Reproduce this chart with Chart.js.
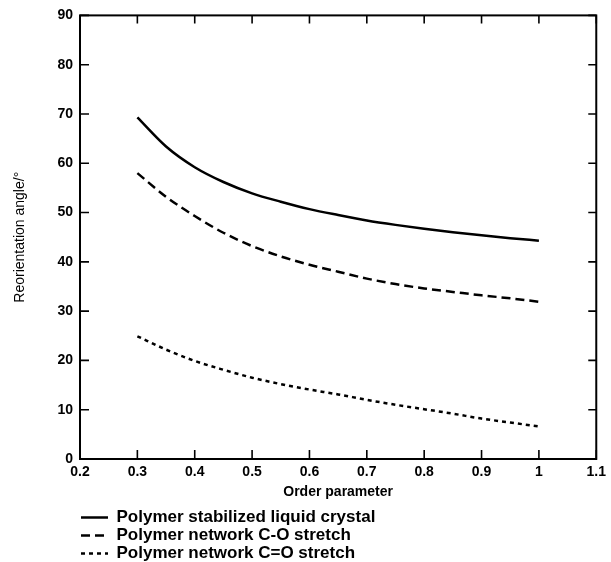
<!DOCTYPE html>
<html>
<head>
<meta charset="utf-8">
<script src="https://cdn.jsdelivr.net/npm/chart.js@4"></script>
<style>
  html, body { margin: 0; padding: 0; background: #fff; overflow: hidden; }
  #wrap { width: 611px; height: 562px; overflow: hidden; }
</style>
</head>
<body>
<div id="wrap"><canvas id="chart" width="611" height="572"></canvas></div>
<script>
// --- data ---
const orderParam = [0.3, 0.35, 0.4, 0.45, 0.5, 0.55, 0.6, 0.65, 0.7, 0.75, 0.8, 0.85, 0.9, 0.95, 1.0];
const pslcAngle = [69.3, 63.4, 59.2, 56.2, 53.9, 52.2, 50.7, 49.5, 48.4, 47.5, 46.7, 46.0, 45.4, 44.8, 44.3];
const coStretchAngle = [58.0, 53.2, 49.3, 45.9, 43.2, 41.1, 39.4, 38.0, 36.6, 35.5, 34.6, 33.9, 33.2, 32.6, 31.9];
const cdoStretchAngle = [24.9, 22.2, 19.9, 18.1, 16.5, 15.2, 14.1, 13.1, 12.0, 11.0, 10.1, 9.2, 8.2, 7.4, 6.6];
const xTickLabels = ['0.2', '0.3', '0.4', '0.5', '0.6', '0.7', '0.8', '0.9', '1', '1.1'];
const yTickLabels = ['0', '10', '20', '30', '40', '50', '60', '70', '80', '90'];
const seriesNames = ['Polymer stabilized liquid crystal', 'Polymer network C-O stretch', 'Polymer network C=O stretch'];
const seriesDash = [[], [9, 5], [4, 4]];

Chart.defaults.font.family = '"Liberation Sans", Arial, sans-serif';
Chart.defaults.color = '#000';

function toPoints(values) {
    return orderParam.map((x, i) => ({ x: x, y: values[i] }));
}

// inward tick marks and frame, placed with the chart's own scales
const frameTicks = {
    id: 'frameTicks',
    afterDatasetsDraw(chart) {
        const { ctx, chartArea: a, scales } = chart;
        ctx.save();
        ctx.strokeStyle = '#000';
        ctx.lineWidth = 2;
        ctx.strokeRect(a.left, a.top, a.right - a.left, a.bottom - a.top);
        ctx.lineWidth = 1.6;
        ctx.beginPath();
        scales.x.ticks.forEach(t => {
            const px = scales.x.getPixelForValue(t.value);
            ctx.moveTo(px, a.bottom); ctx.lineTo(px, a.bottom - 9);
            ctx.moveTo(px, a.top); ctx.lineTo(px, a.top + 8);
        });
        scales.y.ticks.forEach(t => {
            const py = scales.y.getPixelForValue(t.value);
            ctx.moveTo(a.left, py); ctx.lineTo(a.left + 9, py);
            ctx.moveTo(a.right, py); ctx.lineTo(a.right - 8, py);
        });
        ctx.stroke();
        ctx.restore();
    }
};

function makeSeries(i, values) {
    return {
        label: seriesNames[i],
        data: toPoints(values),
        borderDash: seriesDash[i],
        borderColor: '#000',
        backgroundColor: '#000',
        borderWidth: 2.5,
        pointRadius: 0,
        cubicInterpolationMode: 'monotone',
        fill: false
    };
}

new Chart(document.getElementById('chart'), {
    type: 'line',
    data: {
        datasets: [
            makeSeries(0, pslcAngle),
            makeSeries(1, coStretchAngle),
            makeSeries(2, cdoStretchAngle)
        ]
    },
    options: {
        responsive: false,
        animation: false,
        layout: { padding: { left: 0, right: 12, top: 15, bottom: 0 } },
        plugins: {
            tooltip: { enabled: false },
            legend: {
                position: 'bottom',
                align: 'start',
                fullSize: false,
                labels: {
                    usePointStyle: true,
                    pointStyle: 'line',
                    pointStyleWidth: 27,
                    padding: 1,
                    color: '#000',
                    font: { size: 17, weight: 'bold' },
                    generateLabels: chart => chart.data.datasets.map((ds, i) => ({
                        text: ds.label,
                        datasetIndex: i,
                        strokeStyle: ds.borderColor,
                        fillStyle: ds.borderColor,
                        fontColor: '#000',
                        lineWidth: ds.borderWidth,
                        lineDash: ds.borderDash,
                        pointStyle: 'line',
                        hidden: false
                    }))
                }
            }
        },
        scales: {
            x: {
                type: 'linear',
                min: 0.2,
                max: 1.1,
                ticks: {
                    stepSize: 0.1,
                    padding: 5,
                    font: { size: 14, weight: 'bold' },
                    callback: (v, i) => xTickLabels[i]
                },
                grid: { display: false, drawTicks: false },
                border: { display: false },
                title: { display: true, text: 'Order parameter', font: { size: 14, weight: 'bold' }, padding: { top: 0, bottom: 7 } },
                afterFit: s => { s.height = 49; }
            },
            y: {
                min: 0,
                max: 90,
                ticks: {
                    stepSize: 10,
                    padding: 7,
                    font: { size: 14, weight: 'bold' },
                    callback: (v, i) => yTickLabels[i]
                },
                grid: { display: false, drawTicks: false },
                border: { display: false },
                title: { display: true, text: 'Reorientation angle/°', font: { size: 14 }, padding: { top: 12, bottom: 0 } },
                afterFit: s => { s.width = 80; }
            }
        }
    },
    plugins: [frameTicks]
});
</script>
</body>
</html>
